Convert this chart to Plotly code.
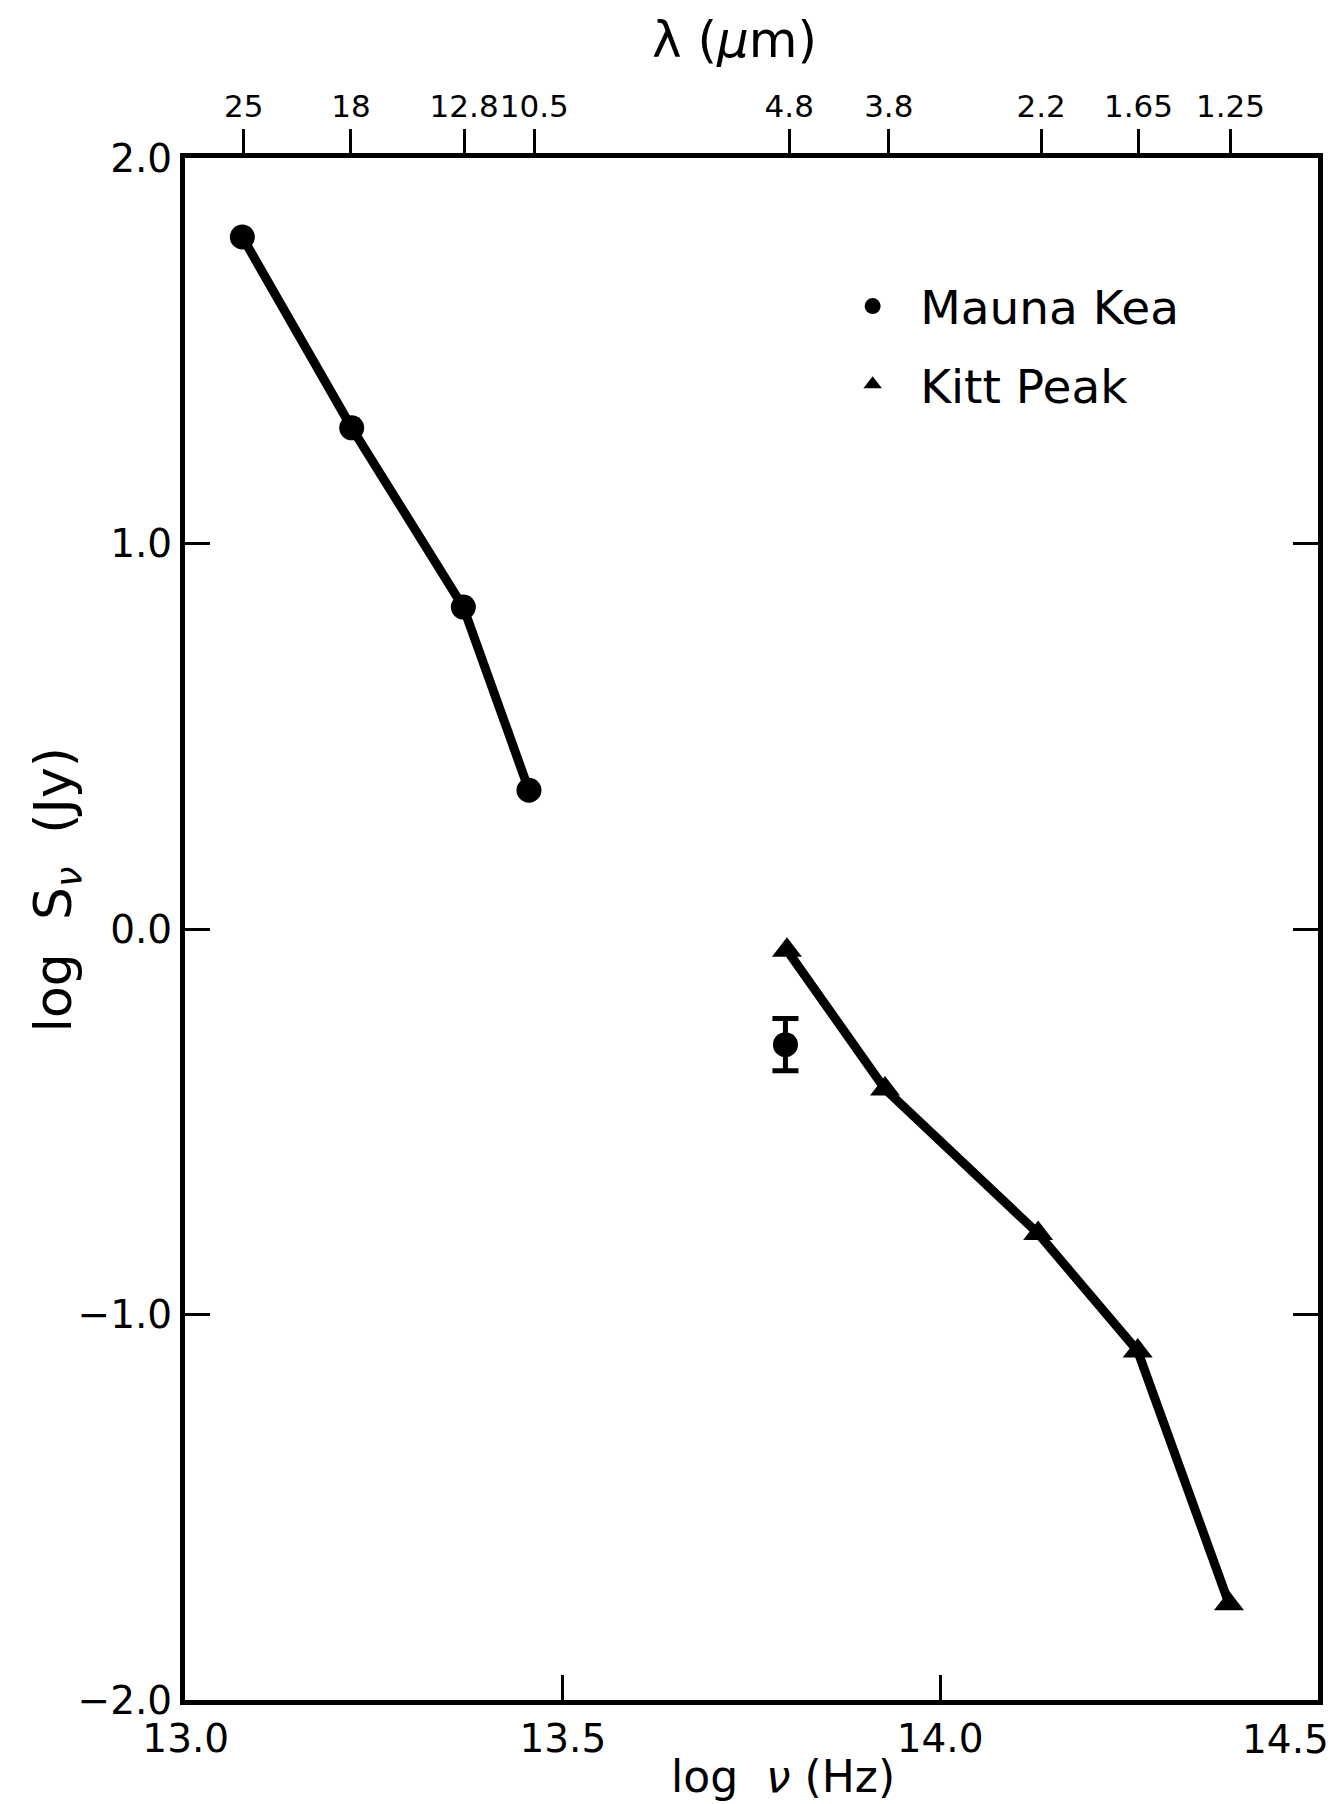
import plotly.graph_objects as go

# Data
mk_logv = [13.075, 13.22, 13.368, 13.455]
mk_logS = [1.795, 1.30, 0.835, 0.36]
mk_err_logv = [13.795]
mk_err_logS = [-0.30]
mk_err = [0.068]

kp_logv = [13.797, 13.927, 14.13, 14.262, 14.383]
kp_logS = [-0.055, -0.415, -0.79, -1.095, -1.75]

top_tick_vals = [13.077, 13.219, 13.369, 13.462, 13.800, 13.932, 14.134, 14.263, 14.385]
top_tick_text = ["25", "18", "12.8", "10.5", "4.8", "3.8", "2.2", "1.65", "1.25"]

x_ticks = [13.0, 13.5, 14.0, 14.5]
x_tick_text = ["13.0", "13.5", "14.0", ""]
x_last_label = "14.5"
y_ticks = [2.0, 1.0, 0.0, -1.0, -2.0]
y_tick_text = ["2.0", "1.0", "0.0", "\u22121.0", "\u22122.0"]

FONT = "DejaVu Sans"
fig = go.Figure()

fig.add_trace(go.Scatter(x=mk_logv, y=mk_logS, mode="lines",
                         line=dict(color="black", width=9), showlegend=False))
fig.add_trace(go.Scatter(x=kp_logv, y=kp_logS, mode="lines",
                         line=dict(color="black", width=9), showlegend=False))
fig.add_trace(go.Scatter(x=mk_logv, y=mk_logS, mode="markers", name="Mauna Kea",
                         legendgroup="a",
                         marker=dict(symbol="circle", size=25, color="black")))
fig.add_trace(go.Scatter(x=mk_err_logv, y=mk_err_logS, mode="markers", showlegend=False,
                         marker=dict(symbol="circle", size=25, color="black"),
                         error_y=dict(type="data", array=mk_err, color="black",
                                      thickness=5, width=13)))
fig.add_trace(go.Scatter(x=kp_logv, y=kp_logS, mode="markers", name="Kitt Peak",
                         legendgroup="b",
                         marker=dict(symbol="triangle-up", size=26, color="black")))
# invisible trace to carry the top wavelength axis
fig.add_trace(go.Scatter(x=[13.0, 14.5], y=[0, 0], xaxis="x2", mode="markers",
                         marker=dict(opacity=0), showlegend=False, hoverinfo="skip"))

fig.update_layout(
    width=1337, height=1804,
    margin=dict(l=177, r=27, t=150, b=112),
    paper_bgcolor="white", plot_bgcolor="white",
    font=dict(family=FONT, color="black"),
    xaxis=dict(range=[12.999, 14.501], tickvals=x_ticks, ticktext=x_tick_text,
               ticks="inside", ticklen=25, tickwidth=3, tickcolor="black",
               showline=True, linewidth=5, linecolor="black", mirror=True,
               showgrid=False, zeroline=False, tickangle=0,
               tickfont=dict(size=39, family=FONT)),
    xaxis2=dict(range=[12.999, 14.501], overlaying="x", side="top",
                tickvals=top_tick_vals, ticktext=top_tick_text,
                ticks="outside", ticklen=28, tickwidth=3, tickcolor="black",
                showline=False, showgrid=False, zeroline=False, tickangle=0,
                tickfont=dict(size=31, family=FONT)),
    yaxis=dict(range=[-2.0, 2.0], tickvals=y_ticks, ticktext=y_tick_text,
               ticks="inside", ticklen=25, tickwidth=3, tickcolor="black",
               showline=True, linewidth=5, linecolor="black", mirror="ticks",
               showgrid=False, zeroline=False,
               tickfont=dict(size=39, family=FONT)),
    legend=dict(x=0.565, y=0.928, xanchor="left", yanchor="top",
                font=dict(size=47, family=FONT), bgcolor="rgba(0,0,0,0)",
                tracegroupgap=14, itemwidth=85, itemsizing="trace"),
    annotations=[
        dict(text=x_last_label, xref="x", yref="paper", x=14.5, y=0.0,
             xanchor="right", yanchor="middle", xshift=14, yshift=-39,
             showarrow=False, font=dict(size=39, family=FONT)),
        dict(text="\u03bb (<i>\u03bc</i>m)", xref="paper", yref="paper",
             x=0.485, y=1.0, yshift=118, yanchor="middle", showarrow=False,
             font=dict(size=50, family=FONT)),
        dict(text="log  <i>\u03bd</i> (Hz)", xref="paper", yref="paper",
             x=0.528, y=0.0, yshift=-76, yanchor="middle", showarrow=False,
             font=dict(size=44, family=FONT)),
        dict(text="log  S<sub><i>\u03bd</i></sub>  (Jy)", xref="paper", yref="paper",
             x=0.0, xshift=-128, y=0.525, xanchor="center", yanchor="middle",
             textangle=-90, showarrow=False, font=dict(size=52, family=FONT)),
    ],
)

fig.write_html("out.html")
